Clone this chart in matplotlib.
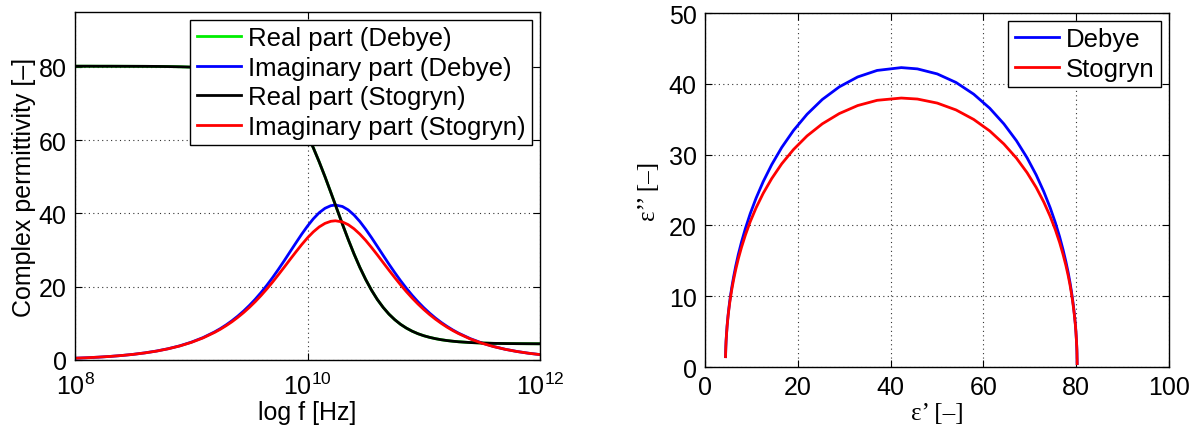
import matplotlib
matplotlib.use("Agg")
import matplotlib.pyplot as plt
from matplotlib.ticker import NullLocator

# log10 of frequency [Hz]
log_f = [8.0, 8.1, 8.2, 8.3, 8.4, 8.5, 8.6, 8.7, 8.8, 8.9,
         9.0, 9.1, 9.2, 9.25, 9.3, 9.35, 9.4, 9.45, 9.5, 9.55, 9.6, 9.65,
         9.7, 9.75, 9.8, 9.85, 9.9, 9.95, 10.0, 10.05, 10.1, 10.15, 10.2, 10.24,
         10.3, 10.35, 10.4, 10.45, 10.5, 10.55, 10.6, 10.65, 10.7, 10.75,
         10.8, 10.85, 10.9, 10.95, 11.0, 11.05, 11.1, 11.15, 11.2, 11.25,
         11.3, 11.4, 11.5, 11.6, 11.7, 11.8, 11.9, 12.0]

# real part (Debye and Stogryn overlap)
real_part = [80.20, 80.20, 80.19, 80.19, 80.18, 80.17, 80.16, 80.14, 80.10, 80.04,
             79.95, 79.81, 79.57, 79.41, 79.21, 78.96, 78.65, 78.26, 77.77, 77.16, 76.42, 75.50,
             74.38, 73.01, 71.38, 69.41, 67.12, 64.41, 61.35, 57.90, 54.10, 50.04, 45.77, 42.30,
             37.09, 32.90, 28.94, 25.28, 21.99, 19.07, 16.53, 14.37, 12.53, 11.01,
             9.74, 8.71, 7.86, 7.17, 6.62, 6.18, 5.82, 5.53, 5.30, 5.12,
             4.97, 4.76, 4.63, 4.54, 4.49, 4.46, 4.44, 4.42]

imag_debye = [0.49, 0.61, 0.77, 0.97, 1.22, 1.54, 1.94, 2.44, 3.07, 3.86,
              4.86, 6.10, 7.66, 8.57, 9.59, 10.72, 11.98, 13.37, 14.90, 16.58, 18.41, 20.40,
              22.52, 24.78, 27.13, 29.56, 31.97, 34.35, 36.57, 38.55, 40.20, 41.41, 42.12, 42.30,
              41.90, 40.98, 39.58, 37.80, 35.71, 33.42, 31.02, 28.59, 26.18, 23.87,
              21.66, 19.59, 17.66, 15.89, 14.27, 12.80, 11.46, 10.25, 9.17, 8.19,
              7.31, 5.83, 4.64, 3.69, 2.93, 2.33, 1.85, 1.47]

imag_stogryn = [0.49, 0.61, 0.77, 0.97, 1.22, 1.53, 1.93, 2.42, 3.05, 3.82,
                4.80, 6.01, 7.52, 8.39, 9.37, 10.44, 11.64, 12.94, 14.37, 15.92, 17.60, 19.40,
                21.30, 23.31, 25.36, 27.46, 29.51, 31.51, 33.36, 34.98, 36.32, 37.29, 37.86, 38.00,
                37.68, 36.94, 35.81, 34.36, 32.65, 30.73, 28.71, 26.62, 24.53, 22.50,
                20.53, 18.66, 16.91, 15.28, 13.78, 12.40, 11.14, 10.00, 8.96, 8.03,
                7.19, 5.74, 4.58, 3.66, 2.91, 2.32, 1.85, 1.47]

freq = [10 ** v for v in log_f]

plt.rcParams["font.family"] = ["Liberation Sans", "DejaVu Sans"]
plt.rcParams["mathtext.fontset"] = "custom"
plt.rcParams["mathtext.rm"] = "Liberation Sans"
plt.rcParams["mathtext.it"] = "Liberation Sans:italic"
plt.rcParams["font.size"] = 18

fig = plt.figure(figsize=(11.99, 4.27), dpi=100)
ax1 = fig.add_axes([0.0626, 0.1546, 0.3878, 0.815])
ax2 = fig.add_axes([0.588, 0.138, 0.387, 0.829])

grid_kw = dict(color="#333333", linestyle=(0, (1, 3)), linewidth=0.8)
leg_kw = dict(loc="upper right", borderaxespad=0.3, handlelength=1.7,
              handletextpad=0.3, labelspacing=0.22, borderpad=0.25,
              fancybox=False, framealpha=1, edgecolor="black", fontsize=18.5)

# left: permittivity vs frequency
ax1.plot(freq, real_part, color="#00ee00", lw=2, label="Real part (Debye)")
ax1.plot(freq, imag_debye, color="#0000ff", lw=2, label="Imaginary part (Debye)")
ax1.plot(freq, real_part, color="#000000", lw=2, label="Real part (Stogryn)")
ax1.plot(freq, imag_stogryn, color="#ff0000", lw=2, label="Imaginary part (Stogryn)")
ax1.set_xscale("log")
ax1.set_xlim(1e8, 1e12)
ax1.set_ylim(0, 95)
ax1.set_xticks([1e8, 1e10, 1e12])
ax1.xaxis.set_minor_locator(NullLocator())
ax1.set_yticks([0, 20, 40, 60, 80])
ax1.set_xlabel("log f [Hz]", labelpad=1)
ax1.set_ylabel("Complex permittivity [–]", labelpad=2)
ax1.grid(True, **grid_kw)
leg1 = ax1.legend(**leg_kw)
leg1.get_frame().set_linewidth(1.0)

# right: Cole-Cole plot
ax2.plot(real_part, imag_debye, color="#0000ff", lw=2, label="Debye")
ax2.plot(real_part, imag_stogryn, color="#ff0000", lw=2, label="Stogryn")
ax2.set_xlim(0, 100)
ax2.set_ylim(0, 50)
ax2.set_xticks([0, 20, 40, 60, 80, 100])
ax2.set_yticks([0, 10, 20, 30, 40, 50])
ax2.set_xlabel("ε’ [–]", family=["Liberation Serif", "DejaVu Serif"], labelpad=2)
ax2.set_ylabel("ε’’ [–]", family=["Liberation Serif", "DejaVu Serif"], labelpad=6)
ax2.grid(True, **grid_kw)
leg2 = ax2.legend(**leg_kw)
leg2.get_frame().set_linewidth(1.0)

for ax in (ax1, ax2):
    ax.tick_params(which="both", direction="in", top=True, right=True,
                   length=5, width=0.8, labelsize=18, pad=6)
    for s in ax.spines.values():
        s.set_linewidth(1.0)
ax1.tick_params(axis="x", pad=9)

fig.savefig("out.png", dpi=100)
